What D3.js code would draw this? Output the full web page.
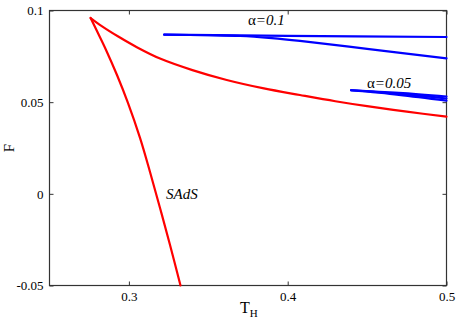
<!DOCTYPE html>
<html>
<head>
<meta charset="utf-8">
<script src="https://cdn.jsdelivr.net/npm/d3@7"></script>
<style>
  body { margin: 0; background: #fff; }
  text { font-family: "Liberation Serif", "DejaVu Serif", serif; }
</style>
</head>
<body>
<svg width="463" height="324"></svg>
<script>
// tick labels
var xTicks = [0.3, 0.4, 0.5];
var yTicks = [-0.05, 0, 0.05, 0.1];

// red curve (SAdS), upper branch [T_H, F]
var sadsUpper = [
  [0.2759, 0.0959], [0.2829, 0.0915], [0.2933, 0.0858], [0.305, 0.0800],
  [0.3196, 0.0738], [0.34, 0.0675], [0.3616, 0.0621], [0.385, 0.0575],
  [0.4077, 0.0539], [0.43, 0.0505], [0.45, 0.0478], [0.475, 0.0448],
  [0.5, 0.0421]
];
// red curve, lower branch
var sadsLower = [
  [0.2759, 0.0959], [0.2805, 0.0877], [0.2856, 0.0785], [0.2925, 0.0648],
  [0.2994, 0.0496], [0.3070, 0.0305], [0.3133, 0.0119], [0.3196, -0.0077],
  [0.3259, -0.0279], [0.3325, -0.0500]
];
// alpha = 0.1 branches
var a01Upper = [[0.3222, 0.0868], [0.40, 0.0862], [0.5, 0.08555]];
var a01Lower = [
  [0.3222, 0.0868], [0.35, 0.0865], [0.37, 0.0861], [0.39, 0.0849],
  [0.4077, 0.0834], [0.45, 0.0791], [0.5, 0.0739]
];
// alpha = 0.05 branches
var a005A = [[0.4399, 0.0565], [0.47, 0.0551], [0.5, 0.0531]];
var a005B = [[0.4399, 0.0565], [0.47, 0.0545], [0.5, 0.0520]];
var a005C = [[0.4399, 0.0565], [0.47, 0.0540], [0.5, 0.0508]];

var svg = d3.select("svg");
var mLeft = 49.5, mRight = 446.5, mTop = 10.5, mBottom = 285.5;

var x = d3.scaleLinear().domain([0.25, 0.5]).range([mLeft, mRight]);
var y = d3.scaleLinear().domain([-0.05, 0.1]).range([mBottom, mTop]);

var axisCol = "#333";

// axes with inward ticks
var gx = svg.append("g").attr("transform", "translate(0," + mBottom + ")")
  .call(d3.axisBottom(x).tickValues(xTicks).tickSize(-4).tickSizeOuter(0).tickPadding(6)
    .tickFormat(function(d) { return String(d); }));
var gxTop = svg.append("g").attr("transform", "translate(0," + mTop + ")")
  .call(d3.axisTop(x).tickValues(xTicks).tickSize(-4).tickSizeOuter(0).tickFormat(""));
var gy = svg.append("g").attr("transform", "translate(" + mLeft + ",0)")
  .call(d3.axisLeft(y).tickValues(yTicks).tickSize(-4).tickSizeOuter(0).tickPadding(6)
    .tickFormat(function(d) { return String(d); }));
var gyR = svg.append("g").attr("transform", "translate(" + mRight + ",0)")
  .call(d3.axisRight(y).tickValues(yTicks).tickSize(-4).tickSizeOuter(0).tickFormat(""));

[gx, gxTop, gy, gyR].forEach(function(g) {
  g.select(".domain").remove();
  g.selectAll("line").attr("stroke", axisCol);
  g.selectAll("text").attr("font-size", 13).attr("fill", "#000")
    .style("font-family", "'Liberation Serif', serif");
});

svg.append("rect")
  .attr("x", mLeft).attr("y", mTop)
  .attr("width", mRight - mLeft).attr("height", mBottom - mTop)
  .attr("fill", "none").attr("stroke", axisCol).attr("stroke-width", 1.2);

var line = d3.line()
  .x(function(d) { return x(d[0]); })
  .y(function(d) { return y(d[1]); })
  .curve(d3.curveCatmullRom.alpha(0.5));

var curves = [
  { d: sadsUpper, c: "#ff0000" },
  { d: sadsLower, c: "#ff0000" },
  { d: a01Upper, c: "#0000ff" },
  { d: a01Lower, c: "#0000ff" },
  { d: a005A, c: "#0000ff" },
  { d: a005B, c: "#0000ff" },
  { d: a005C, c: "#0000ff" }
];

var plot = svg.append("g");
plot.selectAll("path").data(curves).enter().append("path")
  .attr("d", function(d) { return line(d.d); })
  .attr("fill", "none")
  .attr("stroke", function(d) { return d.c; })
  .attr("stroke-width", 2.2)
  .attr("stroke-linejoin", "round")
  .attr("stroke-linecap", "round");

// labels in the plot
function alphaLabel(px, py, txt) {
  var t = svg.append("text").attr("x", px).attr("y", py).attr("font-size", 15);
  t.append("tspan").text("α");
  t.append("tspan").attr("font-style", "italic").text("=" + txt);
}
alphaLabel(248, 25, "0.1");
alphaLabel(367, 88, "0.05");

svg.append("text").attr("x", 166).attr("y", 199)
  .attr("font-size", 15).attr("font-style", "italic").text("SAdS");

// axis titles
var xt = svg.append("text").attr("x", 240).attr("y", 313).attr("font-size", 16);
xt.append("tspan").text("T");
xt.append("tspan").attr("font-size", 11).attr("dy", 4).text("H");

svg.append("text")
  .attr("transform", "translate(14,148) rotate(-90)")
  .attr("text-anchor", "middle")
  .attr("font-size", 15).text("F");
</script>
</body>
</html>
